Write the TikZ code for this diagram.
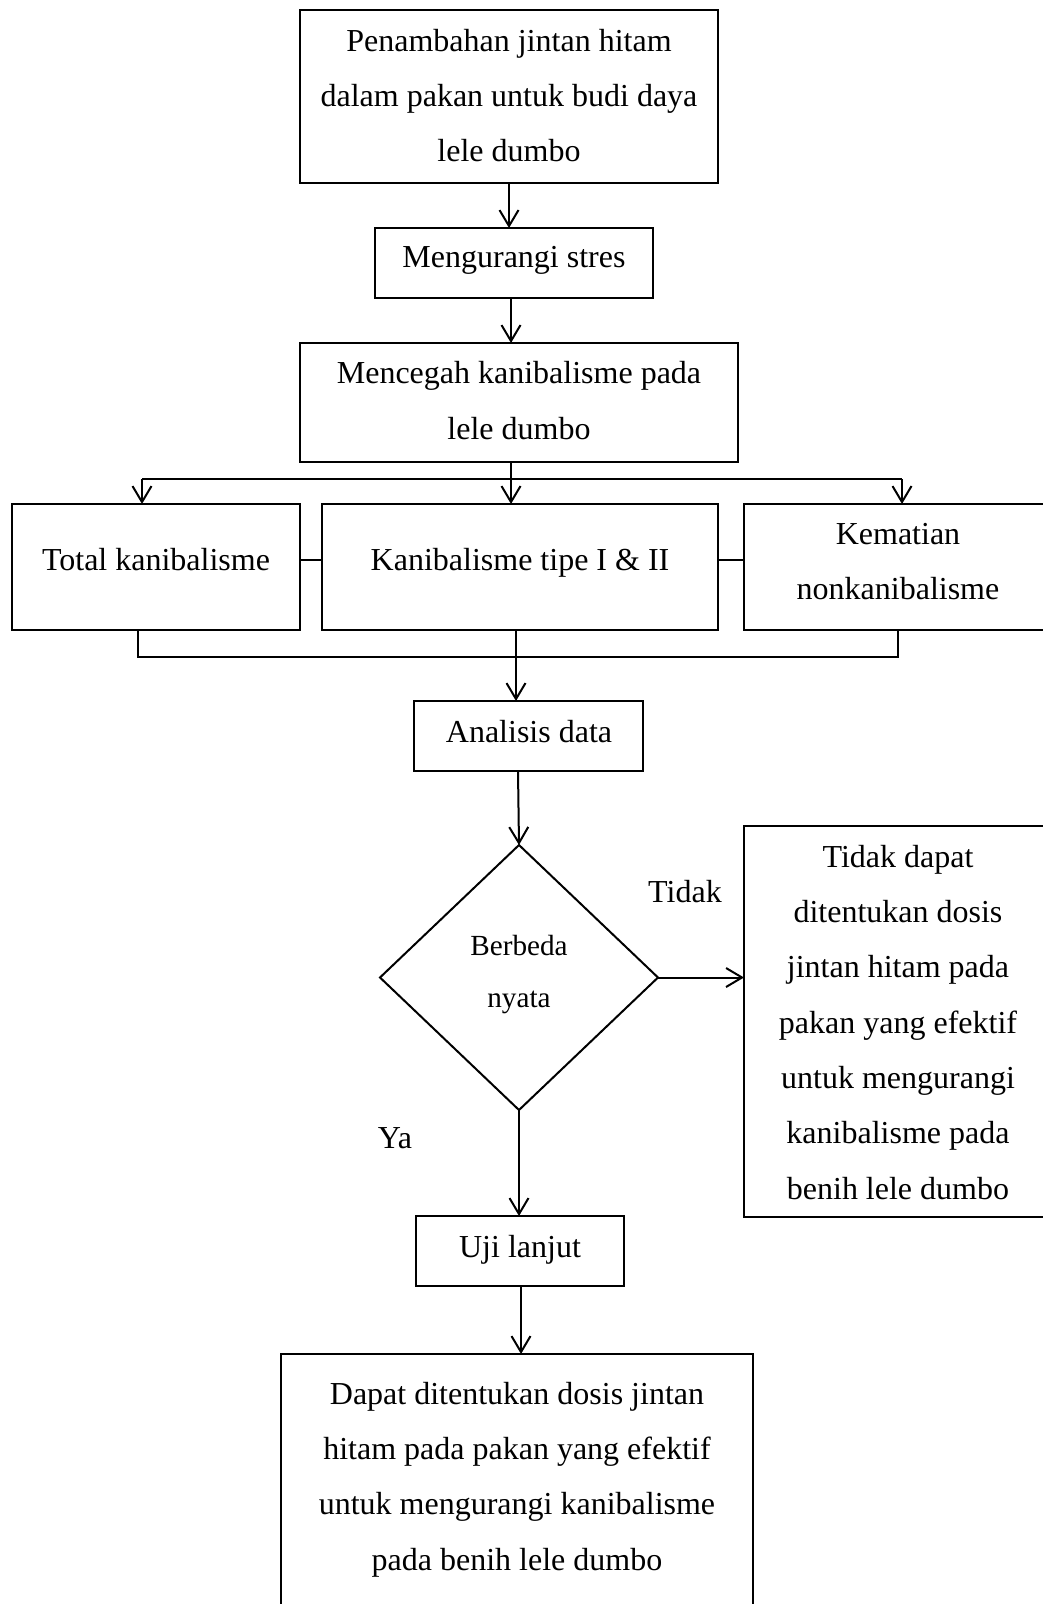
\documentclass[tikz,border=0pt]{standalone}
\usepackage{fontspec}
\setmainfont{Liberation Serif}
\usetikzlibrary{arrows.meta,shapes.geometric}
\newcommand{\lnst}{\rule[-0.25em]{0pt}{1.15em}}
\begin{document}
\begin{tikzpicture}[x=1pt,y=-1pt,
  frame/.style={draw,line width=2pt,inner sep=0pt,outer sep=0pt},
  txt/.style={align=center,inner sep=0pt,font=\fontsize{32}{55.3}\selectfont,
    execute at begin node=\lnst, execute at end node=\lnst},
  dtxt/.style={align=center,inner sep=0pt,font=\fontsize{29.2}{52}\selectfont,
    execute at begin node=\lnst, execute at end node=\lnst},
  ln/.style={line width=2pt},
  arr/.style={line width=2pt,-{Straight Barb[length=16pt,width=19pt]}}]
\useasboundingbox[fill=white] (0,0) rectangle (1043,1604);
% boxes
\node[frame,minimum width=418pt,minimum height=173pt] (box1) at (509,96.5) {};
\node[frame,minimum width=278pt,minimum height=70pt] (box2) at (514,263) {};
\node[frame,minimum width=438pt,minimum height=119pt] (box3) at (519,402.5) {};
\node[frame,minimum width=288pt,minimum height=126pt] (tot) at (156,567) {};
\node[frame,minimum width=396pt,minimum height=126pt] (kan) at (520,567) {};
\node[frame,minimum width=308pt,minimum height=126pt] (kem) at (898,567) {};
\node[frame,minimum width=229pt,minimum height=70pt] (ana) at (528.5,736) {};
\node[frame,shape=diamond,minimum width=278pt,minimum height=265pt] (dia) at (519,977.5) {};
\node[frame,minimum width=308pt,minimum height=391pt] (nd) at (898,1021.5) {};
\node[frame,minimum width=208pt,minimum height=70pt] (uji) at (520,1251) {};
\node[frame,minimum width=472pt,minimum height=300pt] (fin) at (517,1504) {};
% texts
\node[txt] (t1) at (509,99.5) {Penambahan jintan hitam\\dalam pakan untuk budi daya\\lele dumbo};
\node[txt] (t2) at (514,257) {Mengurangi stres};
\node[txt] (t3) at (519,404.5) {Mencegah kanibalisme pada\\lele dumbo};
\node[txt] (tTot) at (156,560) {Total kanibalisme};
\node[txt] (tKan) at (520,560) {Kanibalisme tipe I \& II};
\node[txt] (tKem) at (898,565.5) {Kematian\\nonkanibalisme};
\node[txt] (tAna) at (529,732) {Analisis data};
\node[dtxt] (tDia) at (519,975.5) {Berbeda\\nyata};
\node[txt] (tTidak) at (685,892) {Tidak};
\node[txt] (tNd) at (898,1026) {Tidak dapat\\ditentukan dosis\\jintan hitam pada\\pakan yang efektif\\untuk mengurangi\\kanibalisme pada\\benih lele dumbo};
\node[txt] (tYa) at (395,1138) {Ya};
\node[txt] (tUji) at (520,1247) {Uji lanjut};
\node[txt] (tFin) at (517,1480) {Dapat ditentukan dosis jintan\\hitam pada pakan yang efektif\\untuk mengurangi kanibalisme\\pada benih lele dumbo};
% connectors
\draw[arr] (box1.south) -- (box1.south |- box2.north);
\coordinate (x2) at (511,0);
\draw[arr] (x2 |- box2.south) -- (x2 |- box3.north);
\coordinate (jL) at (142,479);
\coordinate (jM) at (511,479);
\coordinate (jR) at (902,479);
\draw[ln] (jL) -- (jR);
\draw[arr] (jL) -- (jL |- tot.north);
\draw[arr] (jR) -- (jR |- kem.north);
\draw[arr] (jM |- box3.south) -- (jM |- kan.north);
\coordinate (yc) at (0,560);
\draw[ln] (tot.east |- yc) -- (kan.west |- yc);
\draw[ln] (kan.east |- yc) -- (kem.west |- yc);
\coordinate (cL) at (138,657);
\coordinate (cM) at (516,657);
\coordinate (cR) at (898,657);
\draw[ln] (cL |- tot.south) -- (cL) -- (cR) -- (cR |- kem.south);
\draw[arr] (cM |- kan.south) -- (cM |- ana.north);
\coordinate (x5) at (518,0);
\draw[arr] (x5 |- ana.south) -- (dia.north);
\draw[arr] (dia.east) -- (dia.east -| nd.west);
\draw[arr] (dia.south) -- (dia.south |- uji.north);
\coordinate (x8) at (521,0);
\draw[arr] (x8 |- uji.south) -- (x8 |- fin.north);
\end{tikzpicture}
\end{document}
